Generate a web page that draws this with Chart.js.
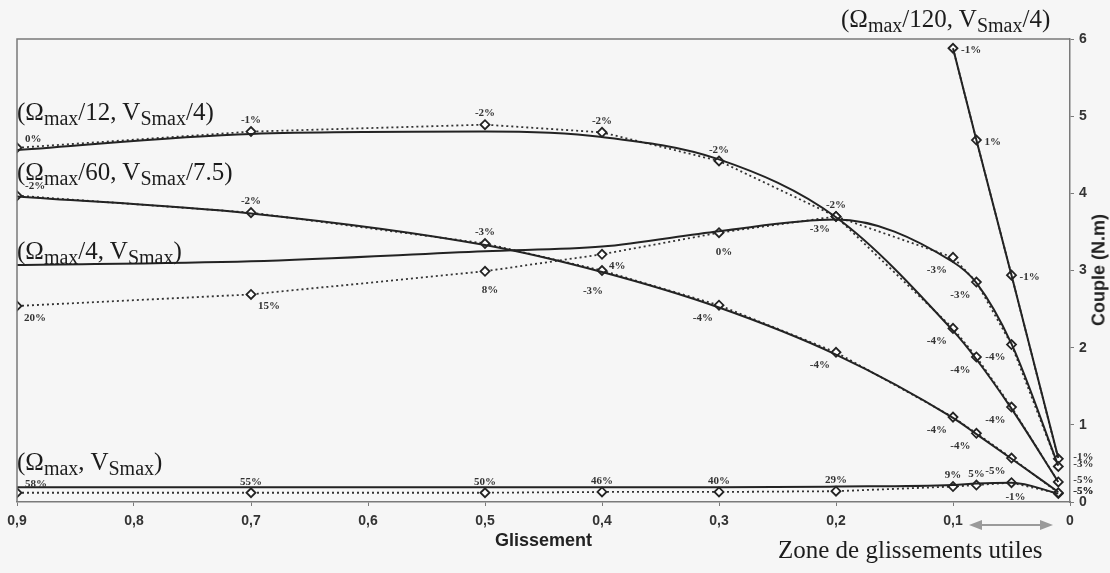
<!DOCTYPE html>
<html>
<head>
<meta charset="utf-8">
<script src="https://cdn.jsdelivr.net/npm/chart.js@4.4.1/dist/chart.umd.min.js"></script>
<style>
  html, body { margin: 0; padding: 0; background: #f6f6f6; }
  #wrap { position: relative; width: 1110px; height: 573px; overflow: hidden; }
  #chart { position: absolute; left: 0; top: 0; }
  .ann { position: absolute; font-family: "Liberation Serif", "Times New Roman", serif; font-size: 25px; line-height: 1; color: #1c1c1c; white-space: nowrap; }
  .ann sub { font-size: 20px; vertical-align: -5px; line-height: 1; }
  #couple { position: absolute; left: 1099px; top: 270px; transform: translate(-50%, -50%) rotate(-90deg);
            font-family: "Liberation Sans", Arial, sans-serif; font-weight: bold; font-size: 18px; color: #222; white-space: nowrap; }
</style>
</head>
<body>
<div id="wrap">
  <canvas id="chart" width="1110" height="573"></canvas>
  <div class="ann" style="left:841px; top:6px;">(&Omega;<sub>max</sub>/120, V<sub>Smax</sub>/4)</div>
  <div class="ann" style="left:17px; top:99px;">(&Omega;<sub>max</sub>/12, V<sub>Smax</sub>/4)</div>
  <div class="ann" style="left:17px; top:159px;">(&Omega;<sub>max</sub>/60, V<sub>Smax</sub>/7.5)</div>
  <div class="ann" style="left:17px; top:238px;">(&Omega;<sub>max</sub>/4, V<sub>Smax</sub>)</div>
  <div class="ann" style="left:17px; top:449px;">(&Omega;<sub>max</sub>, V<sub>Smax</sub>)</div>
  <div class="ann" style="left:778px; top:537px;">Zone de glissements utiles</div>
  <div id="couple">Couple (N.m)</div>
  <svg style="position:absolute; left:965px; top:517px;" width="92" height="16">
    <line x1="14" y1="8" x2="78" y2="8" stroke="#9a9a9a" stroke-width="2"/>
    <polygon points="4,8 17,3 17,13" fill="#9a9a9a"/>
    <polygon points="88,8 75,3 75,13" fill="#9a9a9a"/>
  </svg>
</div>

<script>
// glissements mesurés (axe x, inversé)
const slips = [0.9, 0.7, 0.5, 0.4, 0.3, 0.2, 0.1, 0.08, 0.05, 0.01];
const slips120 = [0.1, 0.08, 0.05, 0.01];

// (Omega_max/12, V_Smax/4)
const mes12 = [4.56, 4.77, 4.80, 4.73, 4.44, 3.69, 2.22, 1.85, 1.21, 0.26];
const mod12 = [4.59, 4.80, 4.89, 4.79, 4.42, 3.70, 2.25, 1.88, 1.23, 0.26];
const err12 = ['0%', '-1%', '-2%', '-2%', '-2%', '-2%', '-4%', '-4%', '-4%', '-5%'];

// (Omega_max/60, V_Smax/7.5)
const mes60 = [3.96, 3.74, 3.33, 2.98, 2.52, 1.91, 1.09, 0.88, 0.56, 0.13];
const mod60 = [3.97, 3.75, 3.35, 3.00, 2.55, 1.94, 1.10, 0.89, 0.57, 0.12];
const err60 = ['-2%', '-2%', '-3%', '-3%', '-4%', '-4%', '-4%', '-4%', '-5%', '-5%'];

// (Omega_max/4, V_Smax)
const mes4 = [3.07, 3.12, 3.25, 3.31, 3.51, 3.66, 3.11, 2.84, 2.05, 0.47];
const mod4 = [2.54, 2.69, 2.99, 3.21, 3.49, 3.70, 3.17, 2.85, 2.04, 0.46];
const err4 = ['20%', '15%', '8%', '4%', '0%', '-3%', '-3%', '-3%', '-4%', '-3%'];

// (Omega_max/120, V_Smax/4)
const mes120 = [5.88, 4.69, 2.94, 0.57];
const mod120 = [5.88, 4.69, 2.94, 0.56];
const err120 = ['-1%', '1%', '-1%', '-1%'];

// (Omega_max, V_Smax)
const mesMax = [0.19, 0.19, 0.19, 0.19, 0.19, 0.20, 0.22, 0.24, 0.25, 0.11];
const modMax = [0.12, 0.12, 0.12, 0.13, 0.13, 0.14, 0.20, 0.22, 0.25, 0.11];
const errMax = ['58%', '55%', '50%', '46%', '40%', '29%', '9%', '5%', '-1%', '-5%'];

const yTicks = [0, 1, 2, 3, 4, 5, 6];

// placement des étiquettes d'erreur autour des losanges
const offsets = {
  a:  { dx: 0,  dy: -11, align: 'center' },
  ar: { dx: 8,  dy: -9,  align: 'left' },
  b:  { dx: 5,  dy: 19,  align: 'center' },
  bs: { dx: 4,  dy: 14,  align: 'center' },
  bb: { dx: -9, dy: 21,  align: 'center' },
  br: { dx: 7,  dy: 12,  align: 'left' },
  bl: { dx: -6, dy: 13,  align: 'right' },
  r:  { dx: 8,  dy: 2,   align: 'left' },
  rr: { dx: 15, dy: -2,  align: 'left' }
};
const place12  = ['ar', 'a', 'a', 'a', 'a', 'a', 'bl', 'bl', 'bl', 'rr'];
const place60  = ['ar', 'a', 'a', 'bb', 'bl', 'bl', 'bl', 'bl', 'bl', 'rr'];
const place4   = ['br', 'br', 'b', 'br', 'b', 'bl', 'bl', 'bl', 'bl', 'rr'];
const place120 = ['r', 'r', 'r', 'rr'];
const placeMax = ['ar', 'a', 'a', 'a', 'a', 'a', 'a', 'a', 'bs', 'rr'];

const INK = '#232323';

function pts(xs, ys) {
  return xs.map((x, i) => ({ x: x, y: ys[i] }));
}

function solid(xs, ys, smooth) {
  return {
    data: pts(xs, ys),
    borderColor: INK,
    borderWidth: 2,
    pointRadius: 0,
    cubicInterpolationMode: smooth ? 'monotone' : 'default',
    tension: 0,
    fill: false
  };
}

function model(xs, ys, labels, places) {
  return {
    data: pts(xs, ys),
    borderColor: '#333',
    borderWidth: 1.8,
    borderDash: [2, 3],
    pointStyle: 'rectRot',
    pointRadius: 4.5,
    pointBackgroundColor: '#ffffff',
    pointBorderColor: INK,
    pointBorderWidth: 1.8,
    tension: 0,
    fill: false,
    errLabels: labels,
    places: places
  };
}

const framePlugin = {
  id: 'frameAndLabels',
  afterDatasetsDraw(chart) {
    const { ctx, chartArea: a } = chart;
    ctx.save();
    ctx.strokeStyle = '#7a7a7a';
    ctx.lineWidth = 1.5;
    ctx.beginPath();
    ctx.moveTo(a.left, a.bottom);
    ctx.lineTo(a.left, a.top);
    ctx.lineTo(a.right, a.top);
    ctx.stroke();

    ctx.font = 'bold 11px "Liberation Serif"';
    ctx.fillStyle = '#333';
    ctx.textBaseline = 'middle';
    chart.data.datasets.forEach((ds, i) => {
      if (!ds.errLabels) return;
      chart.getDatasetMeta(i).data.forEach((p, j) => {
        const o = offsets[ds.places[j]];
        ctx.textAlign = o.align;
        ctx.fillText(ds.errLabels[j], p.x + o.dx, p.y + o.dy);
      });
    });
    ctx.restore();
  }
};

const tickFont = { family: '"Liberation Sans", Arial, sans-serif', size: 14, weight: 'bold' };

new Chart(document.getElementById('chart').getContext('2d'), {
  type: 'line',
  data: {
    datasets: [
      solid(slips, mes12, true),
      solid(slips, mes60, true),
      solid(slips, mes4, true),
      solid(slips120, mes120, false),
      solid(slips, mesMax, true),
      model(slips, mod12, err12, place12),
      model(slips, mod60, err60, place60),
      model(slips, mod4, err4, place4),
      model(slips120, mod120, err120, place120),
      model(slips, modMax, errMax, placeMax)
    ]
  },
  options: {
    responsive: false,
    animation: false,
    layout: { padding: { left: 17, top: 39, right: 0, bottom: 0 } },
    plugins: { legend: { display: false }, tooltip: { enabled: false } },
    scales: {
      x: {
        type: 'linear',
        reverse: true,
        min: 0,
        max: 0.9,
        afterFit: s => { s.height = 71; },
        ticks: {
          stepSize: 0.1,
          font: tickFont,
          color: '#333',
          padding: 7,
          callback: v => (Math.abs(v) < 1e-9 ? '0' : v.toFixed(1).replace('.', ','))
        },
        grid: { drawOnChartArea: false, tickLength: 4, color: '#7a7a7a' },
        border: { color: '#7a7a7a', width: 1.5 },
        title: {
          display: true,
          text: 'Glissement',
          color: '#222',
          font: { family: '"Liberation Sans", Arial, sans-serif', size: 18, weight: 'bold' },
          padding: { top: 0, bottom: 21 }
        }
      },
      y: {
        position: 'right',
        min: yTicks[0],
        max: yTicks[yTicks.length - 1],
        afterFit: s => { s.width = 40; },
        afterBuildTicks: s => { s.ticks = yTicks.map(v => ({ value: v })); },
        ticks: { font: tickFont, color: '#333', padding: 5 },
        grid: { drawOnChartArea: false, tickLength: 4, color: '#7a7a7a' },
        border: { color: '#7a7a7a', width: 1.5 }
      }
    }
  },
  plugins: [framePlugin]
});
</script>
</body>
</html>
